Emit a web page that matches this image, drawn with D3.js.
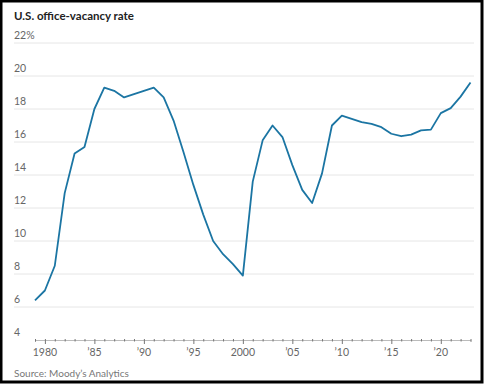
<!DOCTYPE html>
<html>
<head>
<meta charset="utf-8">
<script src="https://cdn.jsdelivr.net/npm/d3@7"></script>
<style>
  body { margin: 0; background: #fff; }
  svg { display: block; font-family: Lato, "Open Sans", sans-serif; }
</style>
</head>
<body>
<div id="chart"></div>
<script>
// vacancy rate, percent, by year
var years = d3.range(1979, 2024);
var rates = [6.4, 7.0, 8.5, 12.9, 15.3, 15.7, 18.0, 19.3, 19.1, 18.7,
  18.9, 19.1, 19.3, 18.7, 17.3, 15.4, 13.4, 11.6, 10.0, 9.2,
  8.6, 7.9, 13.6, 16.1, 17.0, 16.3, 14.6, 13.1, 12.3, 14.1,
  17.0, 17.6, 17.4, 17.2, 17.1, 16.9, 16.5, 16.35, 16.45, 16.7,
  16.75, 17.75, 18.05, 18.75, 19.6];
var yTicks = [4, 6, 8, 10, 12, 14, 16, 18, 20, 22];
var xTicks = [1980, 1985, 1990, 1995, 2000, 2005, 2010, 2015, 2020];

var W = 484, H = 385;

var svg = d3.select("#chart").append("svg")
  .attr("width", W)
  .attr("height", H);

// frame
svg.append("rect")
  .attr("x", 1).attr("y", 1)
  .attr("width", W - 3).attr("height", H - 4)
  .attr("fill", "#fff")
  .attr("stroke", "#000")
  .attr("stroke-width", 3);

var x = d3.scaleLinear().domain([1979, 2023]).range([35, 470.5]);
var y = d3.scaleLinear().domain([4, 22]).range([340, 43]);

svg.append("text")
  .attr("x", 14).attr("y", 20)
  .attr("font-size", 11.5)
  .attr("font-weight", "bold")
  .attr("fill", "#222")
  .text("U.S. office-vacancy rate");

// gridlines
svg.append("g").selectAll("line")
  .data(yTicks.slice(1))
  .enter().append("line")
  .attr("x1", 14).attr("x2", 474)
  .attr("y1", function(d) { return y(d); })
  .attr("y2", function(d) { return y(d); })
  .attr("stroke", "#e6e6e6")
  .attr("stroke-width", 1);

svg.append("g").selectAll("text")
  .data(yTicks)
  .enter().append("text")
  .attr("x", 14)
  .attr("y", function(d) { return y(d) - 4; })
  .attr("font-size", 10.5)
  .attr("fill", "#666")
  .text(function(d) { return d === 22 ? d + "%" : d; });

// x axis
var xAxis = svg.append("g")
  .attr("transform", "translate(0," + y(4) + ")")
  .call(d3.axisBottom(x).tickValues(years).tickSize(2).tickFormat(""));
xAxis.select(".domain").attr("stroke", "#bbb");
xAxis.selectAll(".tick line").attr("stroke", "#777")
  .attr("y1", -1)
  .attr("y2", function(d) { return xTicks.indexOf(d) > -1 ? 4 : 1.5; });

svg.append("g").selectAll("text")
  .data(xTicks)
  .enter().append("text")
  .attr("x", function(d) { return x(d); })
  .attr("y", y(4) + 16)
  .attr("text-anchor", "middle")
  .attr("font-size", 10.5)
  .attr("fill", "#666")
  .text(function(d) { return (d === 1980 || d === 2000) ? d : "\u2019" + String(d).slice(2); });

var line = d3.line()
  .x(function(d, i) { return x(years[i]); })
  .y(function(d) { return y(d); });

svg.append("path")
  .datum(rates)
  .attr("d", line)
  .attr("fill", "none")
  .attr("stroke", "#1b75a3")
  .attr("stroke-width", 1.8)
  .attr("stroke-linejoin", "round");

svg.append("text")
  .attr("x", 14).attr("y", 377)
  .attr("font-size", 10)
  .attr("fill", "#777")
  .text("Source: Moody\u2019s Analytics");
</script>
</body>
</html>
